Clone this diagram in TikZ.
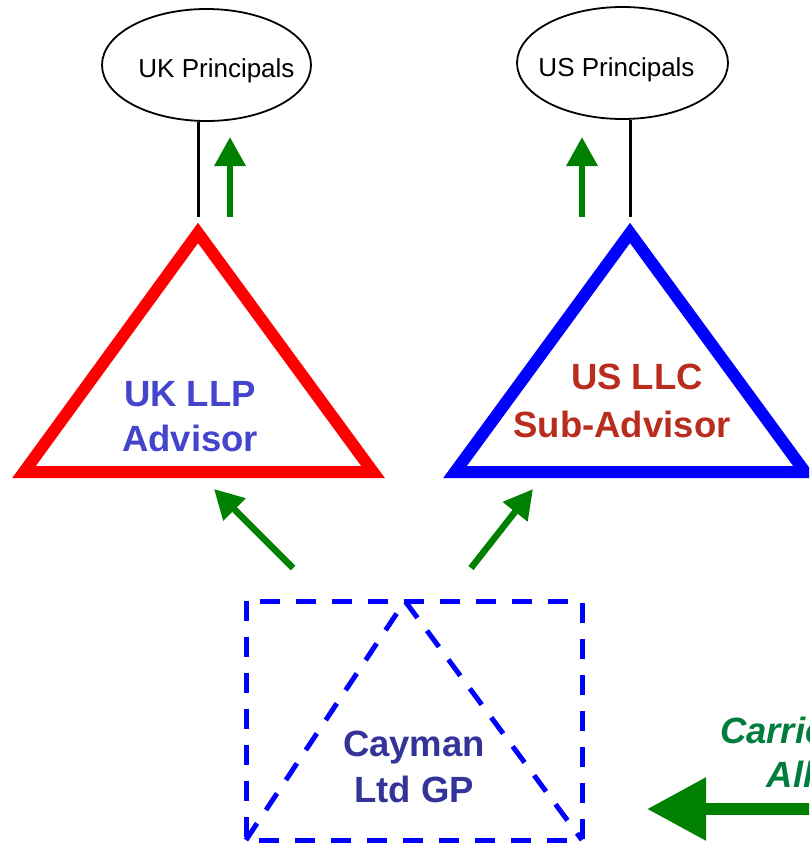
\documentclass[tikz,border=0pt]{standalone}
\usepackage{fontspec}
\setmainfont{Liberation Sans}
\usetikzlibrary{shapes.geometric,arrows.meta}
\definecolor{arrowgreen}{RGB}{0,128,0}
\definecolor{labelblue}{RGB}{68,68,204}
\definecolor{labelred}{RGB}{185,45,30}
\definecolor{gpblue}{RGB}{51,51,153}
\definecolor{carrygreen}{RGB}{0,125,60}

\begin{document}
\begin{tikzpicture}[x=1pt, y=-1pt,
	principal/.style={ellipse, draw, line width=1.8pt, inner sep=0pt, font=\fontsize{26}{31}\selectfont},
	entity/.style={align=center, inner sep=0pt, font=\fontsize{36.5}{45}\selectfont\bfseries},
	flow/.style={arrowgreen, line width=6.5pt, -{Triangle[length=29pt, width=30pt]}},
	tie/.style={black, line width=3pt}]
	\useasboundingbox (0,0) rectangle (809,843);
	\clip (0,0) rectangle (809,843);
	% principals
	\node[principal, minimum width=209pt, minimum height=112pt,
		label={[anchor=base, xshift=10pt, yshift=-6pt, font=\fontsize{26}{31}\selectfont]center:UK Principals}] (ukp) at (206.5,65) {};
	\node[principal, minimum width=211pt, minimum height=112pt,
		label={[anchor=base, xshift=-6pt, yshift=-7pt, font=\fontsize{26}{31}\selectfont]center:US Principals}] (usp) at (622.5,63) {};
	% advisor triangles
	\coordinate (ukl) at (24,472);
	\coordinate (uka) at (198,233);
	\coordinate (ukr) at (373,472);
	\coordinate (usl) at (455,472);
	\coordinate (usa) at (630,233);
	\coordinate (usr) at (805,472);
	\draw[red, line width=12pt] (ukl) -- (uka) -- (ukr) -- cycle;
	\draw[blue, line width=12pt] (usl) -- (usa) -- (usr) -- cycle;
	\node[entity, text=labelblue] (ukllp) at (190,416.5) {UK LLP\\Advisor};
	\node[entity, text=labelred, font=\fontsize{36.5}{48}\selectfont\bfseries] (usllc) at (622,401) {\hspace*{30pt}US LLC\\Sub-Advisor};
	% ties to principals
	\coordinate (uktie) at (198,217);
	\coordinate (ustie) at (630,217);
	\draw[tie] (ukp.south -| uktie) -- (uktie);
	\draw[tie] (usp.south -| ustie) -- (ustie);
	\coordinate (ukup0) at (230,217);
	\coordinate (ukup1) at (230,137);
	\coordinate (usup0) at (582,217);
	\coordinate (usup1) at (582,137);
	\draw[flow] (ukup0) -- (ukup1);
	\draw[flow] (usup0) -- (usup1);
	% cayman gp
	\coordinate (gpa) at (246,601);
	\coordinate (gpb) at (582,840);
	\coordinate (gptop) at (405,601);
	\draw[blue, line width=5pt, dash pattern=on 20pt off 16pt] (gpa) rectangle (gpb);
	\draw[blue, line width=5pt, dash pattern=on 20pt off 16pt] (gpa |- gpb) -- (gptop) -- (gpb);
	\node[entity, text=gpblue, font=\fontsize{36.5}{46}\selectfont\bfseries] (gp) at (414,766.8) {Cayman\\Ltd GP};
	\coordinate (gpl0) at (293,568);
	\coordinate (gpl1) at (214,489);
	\coordinate (gpr0) at (471,568);
	\coordinate (gpr1) at (533,489);
	\draw[flow] (gpl0) -- (gpl1);
	\draw[flow] (gpr0) -- (gpr1);
	% carry
	\node[entity, text=carrygreen, font=\fontsize{36.5}{44}\selectfont\bfseries\itshape] (carry) at (855,752) {Carried Interest\\Allocation};
	\coordinate (carry0) at (840,809);
	\coordinate (carry1) at (647,809);
	\draw[arrowgreen, line width=12pt, -{Triangle[length=59pt, width=60pt]}] (carry0) -- (carry1);
\end{tikzpicture}
\end{document}
